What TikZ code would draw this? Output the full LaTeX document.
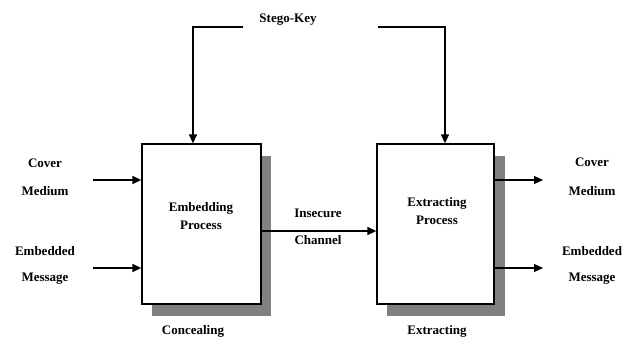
\documentclass[tikz,border=0pt]{standalone}
\usepackage{fontspec}
\setmainfont{Liberation Serif}
\usetikzlibrary{arrows.meta}
\begin{document}
\begin{tikzpicture}[x=1pt,y=-1pt,
  lbl/.style={font=\bfseries\fontsize{13}{13}\selectfont, inner sep=0pt},
  procbox/.style={draw=black, line width=1.3pt, fill=white, minimum width=119pt, minimum height=160pt, inner sep=0pt},
  conn/.style={line width=1.3pt},
  arr/.style={conn, -{Triangle[length=9pt,width=8pt]}}
]
\useasboundingbox (0,0) rectangle (632,338);
% shadows
\fill[black!50] (152,156) rectangle (271,316);
\fill[black!50] (387,156) rectangle (505,316);
% boxes
\node[procbox, minimum width=119pt] (emb) at (201.5,224) {};
\node[procbox, minimum width=117pt] (ext) at (435.5,224) {};
\node[lbl, align=center] (embt) at (201,216) {Embedding\\[5pt]Process};
\node[lbl, align=center] (extt) at (437,211) {Extracting\\[5pt]Process};
% key
\node[lbl] (key) at (288,20) {Stego-Key};
\coordinate (kl) at (243,27);
\coordinate (kr) at (378,27);
\coordinate (klc) at (193,27);
\coordinate (krc) at (445,27);
\draw[arr] (kl) -- (klc) -- (emb.north -| klc);
\draw[arr] (kr) -- (krc) -- (ext.north -| krc);
% inputs
\node[lbl] (cm1) at (45,163) {Cover};
\node[lbl] (cm2) at (45,191) {Medium};
\node[lbl] (em1) at (45,251) {Embedded};
\node[lbl] (em2) at (45,279) {Message};
\coordinate (in1) at (93,180);
\coordinate (in2) at (93,268);
\draw[arr] (in1) -- (in1 -| emb.west);
\draw[arr] (in2) -- (in2 -| emb.west);
% channel
\node[lbl] (ch1) at (318,213) {Insecure};
\node[lbl] (ch2) at (318,240) {Channel};
\coordinate (chs) at (271,231);
\draw[arr] (chs -| emb.east) -- (chs -| ext.west);
% outputs
\node[lbl] (oc1) at (592,162) {Cover};
\node[lbl] (oc2) at (592,191) {Medium};
\node[lbl] (oe1) at (592,251) {Embedded};
\node[lbl] (oe2) at (592,279) {Message};
\coordinate (o1) at (543,180);
\coordinate (o2) at (543,268);
\draw[arr] (o1 -| ext.east) -- (o1);
\draw[arr] (o2 -| ext.east) -- (o2);
% captions
\node[lbl] (conc) at (193,331) {Concealing};
\node[lbl] (extr) at (437,331) {Extracting};
\end{tikzpicture}
\end{document}
